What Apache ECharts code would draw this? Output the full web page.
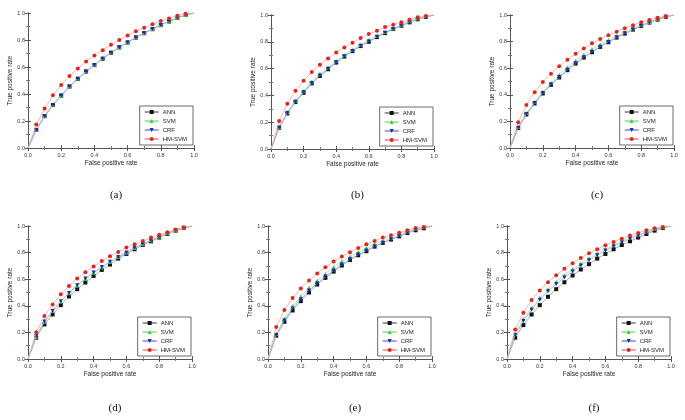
<!DOCTYPE html>
<html><head><meta charset="utf-8">
<script src="https://cdn.jsdelivr.net/npm/echarts@6/dist/echarts.min.js"></script>
<style>html,body{margin:0;padding:0;background:#fff}#c{width:685px;height:420px}</style>
</head><body><div id="c"></div>
<script>
// False positive rate (x) sample points
const fpr = [0,0.05,0.1,0.15,0.2,0.25,0.3,0.35,0.4,0.45,0.5,0.55,0.6,0.65,0.7,0.75,0.8,0.85,0.9,0.95,1.0];
const seriesNames = ['ANN','SVM','CRF','HM-SVM'];
const panelLabels = ['(a)','(b)','(c)','(d)','(e)','(f)'];
const xTitle = 'False positive rate';
const yTitle = 'True positive rate';
const tickLabels = ['0.0','0.2','0.4','0.6','0.8','1.0'];

// Panel (a)
const annA = [0,0.134,0.236,0.318,0.388,0.455,0.512,0.566,0.614,0.661,0.705,0.745,0.781,0.818,0.850,0.880,0.910,0.937,0.964,0.985,1];
const svmA = [0,0.136,0.239,0.321,0.391,0.458,0.515,0.569,0.617,0.664,0.708,0.748,0.784,0.820,0.852,0.882,0.912,0.939,0.965,0.986,1];
const crfA = [0,0.133,0.236,0.319,0.389,0.456,0.513,0.567,0.615,0.662,0.706,0.746,0.782,0.819,0.851,0.881,0.911,0.938,0.964,0.985,1];
const hmA  = [0,0.174,0.293,0.390,0.466,0.533,0.588,0.640,0.685,0.725,0.764,0.800,0.834,0.864,0.891,0.916,0.940,0.960,0.980,0.995,1];
// Panel (b)
const annB = [0,0.158,0.265,0.350,0.420,0.490,0.545,0.595,0.645,0.690,0.730,0.768,0.800,0.835,0.865,0.895,0.920,0.945,0.968,0.985,1];
const svmB = [0,0.165,0.277,0.360,0.432,0.502,0.562,0.608,0.657,0.702,0.740,0.778,0.815,0.845,0.873,0.900,0.927,0.953,0.974,0.990,1];
const crfB = [0,0.160,0.268,0.352,0.423,0.492,0.548,0.598,0.647,0.692,0.732,0.770,0.803,0.837,0.867,0.896,0.921,0.946,0.969,0.986,1];
const hmB  = [0,0.209,0.337,0.434,0.509,0.574,0.628,0.676,0.720,0.758,0.793,0.828,0.858,0.883,0.910,0.928,0.945,0.965,0.983,0.993,1];
// Panel (c)
const annC = [0,0.150,0.252,0.335,0.410,0.475,0.530,0.585,0.635,0.680,0.720,0.760,0.795,0.830,0.860,0.890,0.918,0.943,0.965,0.985,1];
const svmC = [0,0.157,0.263,0.347,0.422,0.490,0.552,0.607,0.657,0.702,0.742,0.778,0.812,0.842,0.872,0.898,0.924,0.948,0.970,0.988,1];
const crfC = [0,0.152,0.255,0.338,0.413,0.478,0.534,0.589,0.638,0.683,0.723,0.762,0.797,0.832,0.862,0.891,0.919,0.944,0.966,0.986,1];
const hmC  = [0,0.193,0.323,0.419,0.496,0.559,0.614,0.664,0.709,0.749,0.787,0.820,0.847,0.875,0.900,0.922,0.945,0.962,0.980,0.990,1];
// Panel (d)
const annD = [0,0.160,0.260,0.335,0.405,0.470,0.525,0.575,0.625,0.670,0.710,0.755,0.790,0.825,0.858,0.885,0.913,0.940,0.965,0.985,1];
const svmD = [0,0.170,0.280,0.360,0.433,0.494,0.552,0.603,0.648,0.689,0.729,0.766,0.800,0.835,0.865,0.893,0.920,0.945,0.968,0.987,1];
const crfD = [0,0.172,0.282,0.362,0.435,0.496,0.554,0.605,0.650,0.691,0.731,0.767,0.801,0.836,0.866,0.893,0.920,0.945,0.968,0.987,1];
const hmD  = [0,0.202,0.324,0.410,0.486,0.549,0.606,0.653,0.696,0.736,0.773,0.805,0.838,0.863,0.888,0.913,0.935,0.953,0.973,0.988,1];
// Panel (e)
const annE = [0,0.175,0.280,0.365,0.435,0.500,0.560,0.610,0.657,0.703,0.745,0.780,0.810,0.845,0.873,0.898,0.922,0.947,0.968,0.983,1];
const svmE = [0,0.190,0.305,0.398,0.470,0.535,0.590,0.640,0.690,0.735,0.770,0.805,0.835,0.863,0.890,0.910,0.935,0.960,0.980,0.995,1];
const crfE = [0,0.180,0.290,0.380,0.450,0.515,0.570,0.620,0.665,0.710,0.750,0.785,0.815,0.848,0.875,0.900,0.925,0.950,0.970,0.985,1];
const hmE  = [0,0.240,0.368,0.458,0.530,0.590,0.643,0.690,0.733,0.770,0.803,0.835,0.863,0.888,0.913,0.930,0.950,0.968,0.985,0.993,1];
// Panel (f)
const annF = [0,0.160,0.255,0.335,0.405,0.468,0.525,0.577,0.628,0.673,0.713,0.755,0.790,0.825,0.857,0.885,0.913,0.940,0.965,0.985,1];
const svmF = [0,0.190,0.300,0.385,0.460,0.525,0.580,0.630,0.675,0.718,0.757,0.795,0.828,0.858,0.885,0.910,0.935,0.958,0.978,0.990,1];
const crfF = [0,0.180,0.285,0.370,0.445,0.510,0.563,0.613,0.658,0.703,0.743,0.780,0.815,0.847,0.877,0.903,0.928,0.952,0.973,0.987,1];
const hmF  = [0,0.222,0.348,0.443,0.515,0.578,0.630,0.678,0.720,0.760,0.795,0.825,0.855,0.880,0.905,0.928,0.948,0.968,0.983,0.993,1];

const panels = [
  [annA, svmA, crfA, hmA],
  [annB, svmB, crfB, hmB],
  [annC, svmC, crfC, hmC],
  [annD, svmD, crfD, hmD],
  [annE, svmE, crfE, hmE],
  [annF, svmF, crfF, hmF]
];

// layout (pixels)
const grids = [
  {left: 28, top: 13, width: 166, height: 135},
  {left: 271, top: 15, width: 163, height: 134},
  {left: 510, top: 15, width: 164, height: 133},
  {left: 28, top: 226, width: 164, height: 133},
  {left: 268, top: 226, width: 164, height: 133},
  {left: 507, top: 226, width: 164, height: 133}
];
const markerColor = ['#111111', '#3cd13c', '#1c2aa8', '#e0261e'];
const lineColor = ['#9a9a9a', '#a8e6a8', '#9aa6e6', '#f0a3a0'];
const symbols = ['rect', 'triangle', 'triangle', 'circle'];
const rotates = [0, 0, 180, 0];
const FONT = 'Liberation Sans';

const chart = echarts.init(document.getElementById('c'), null, {renderer: 'canvas'});
const option = {
  backgroundColor: '#fff',
  animation: false,
  textStyle: {fontFamily: FONT},
  grid: [], xAxis: [], yAxis: [], series: [], legend: [], title: []
};
const axisCommon = {
  type: 'value', min: 0, max: 1, interval: 0.2,
  axisLine: {show: true, lineStyle: {color: '#555', width: 1}},
  axisTick: {show: true, inside: true, length: 3, lineStyle: {color: '#555'}},
  minorTick: {show: true, splitNumber: 2, length: 2, lineStyle: {color: '#777'}},
  splitLine: {show: false}
};
grids.forEach((g, k) => {
  option.grid.push(Object.assign({containLabel: false}, g));
  option.xAxis.push(Object.assign({}, axisCommon, {
    gridIndex: k, position: 'bottom',
    name: xTitle, nameLocation: 'middle', nameGap: 12,
    nameTextStyle: {fontSize: 6.5, color: '#222', fontFamily: FONT},
    axisLabel: {fontSize: 5.5, color: '#333', margin: 4, fontFamily: FONT,
      formatter: v => tickLabels[Math.round(v / 0.2)]}
  }));
  option.xAxis.push(Object.assign({}, axisCommon, {
    gridIndex: k, position: 'top', axisLabel: {show: false},
    axisTick: {show: true, inside: true, length: 3, lineStyle: {color: '#555'}},
    minorTick: {show: true, splitNumber: 2, length: 2, lineStyle: {color: '#777'}}
  }));
  option.yAxis.push(Object.assign({}, axisCommon, {
    gridIndex: k, position: 'left',
    name: yTitle, nameLocation: 'middle', nameGap: 13,
    nameTextStyle: {fontSize: 6.5, color: '#222', fontFamily: FONT},
    axisLabel: {fontSize: 5.5, color: '#333', margin: 3, fontFamily: FONT,
      formatter: v => tickLabels[Math.round(v / 0.2)]}
  }));
  option.yAxis.push(Object.assign({}, axisCommon, {
    gridIndex: k, position: 'right', axisLabel: {show: false}
  }));
  panels[k].forEach((arr, s) => {
    option.series.push({
      type: 'line', name: seriesNames[s],
      xAxisIndex: 2 * k, yAxisIndex: 2 * k,
      data: fpr.map((x, i) => [x, arr[i]]),
      symbol: symbols[s], symbolRotate: rotates[s],
      symbolSize: (v, p) => (p.dataIndex === 0 || p.dataIndex === fpr.length - 1) ? 0 : 4,
      showAllSymbol: true,
      lineStyle: {color: lineColor[s], width: 0.8},
      itemStyle: {color: markerColor[s]},
      z: 2 + s
    });
  });
  option.legend.push({
    data: seriesNames,
    orient: 'vertical',
    right: 685 - (g.left + g.width) + 1,
    bottom: 420 - (g.top + g.height) + 3,
    width: 48,
    itemWidth: 14, itemHeight: 5, itemGap: 3,
    padding: [3, 6, 3, 4],
    borderColor: '#444', borderWidth: 0.8, backgroundColor: '#fff',
    textStyle: {fontSize: 6, color: '#222', fontFamily: FONT, padding: [0, 0, 0, -1]},
    selectedMode: false
  });
  option.title.push({
    text: panelLabels[k],
    left: g.left + g.width / 2, top: (k < 3 ? 185 : 398),
    textAlign: 'center',
    textStyle: {fontSize: 11, fontWeight: 'normal', color: '#111', fontFamily: 'Liberation Serif'}
  });
});
chart.setOption(option);
</script>
</body></html>
